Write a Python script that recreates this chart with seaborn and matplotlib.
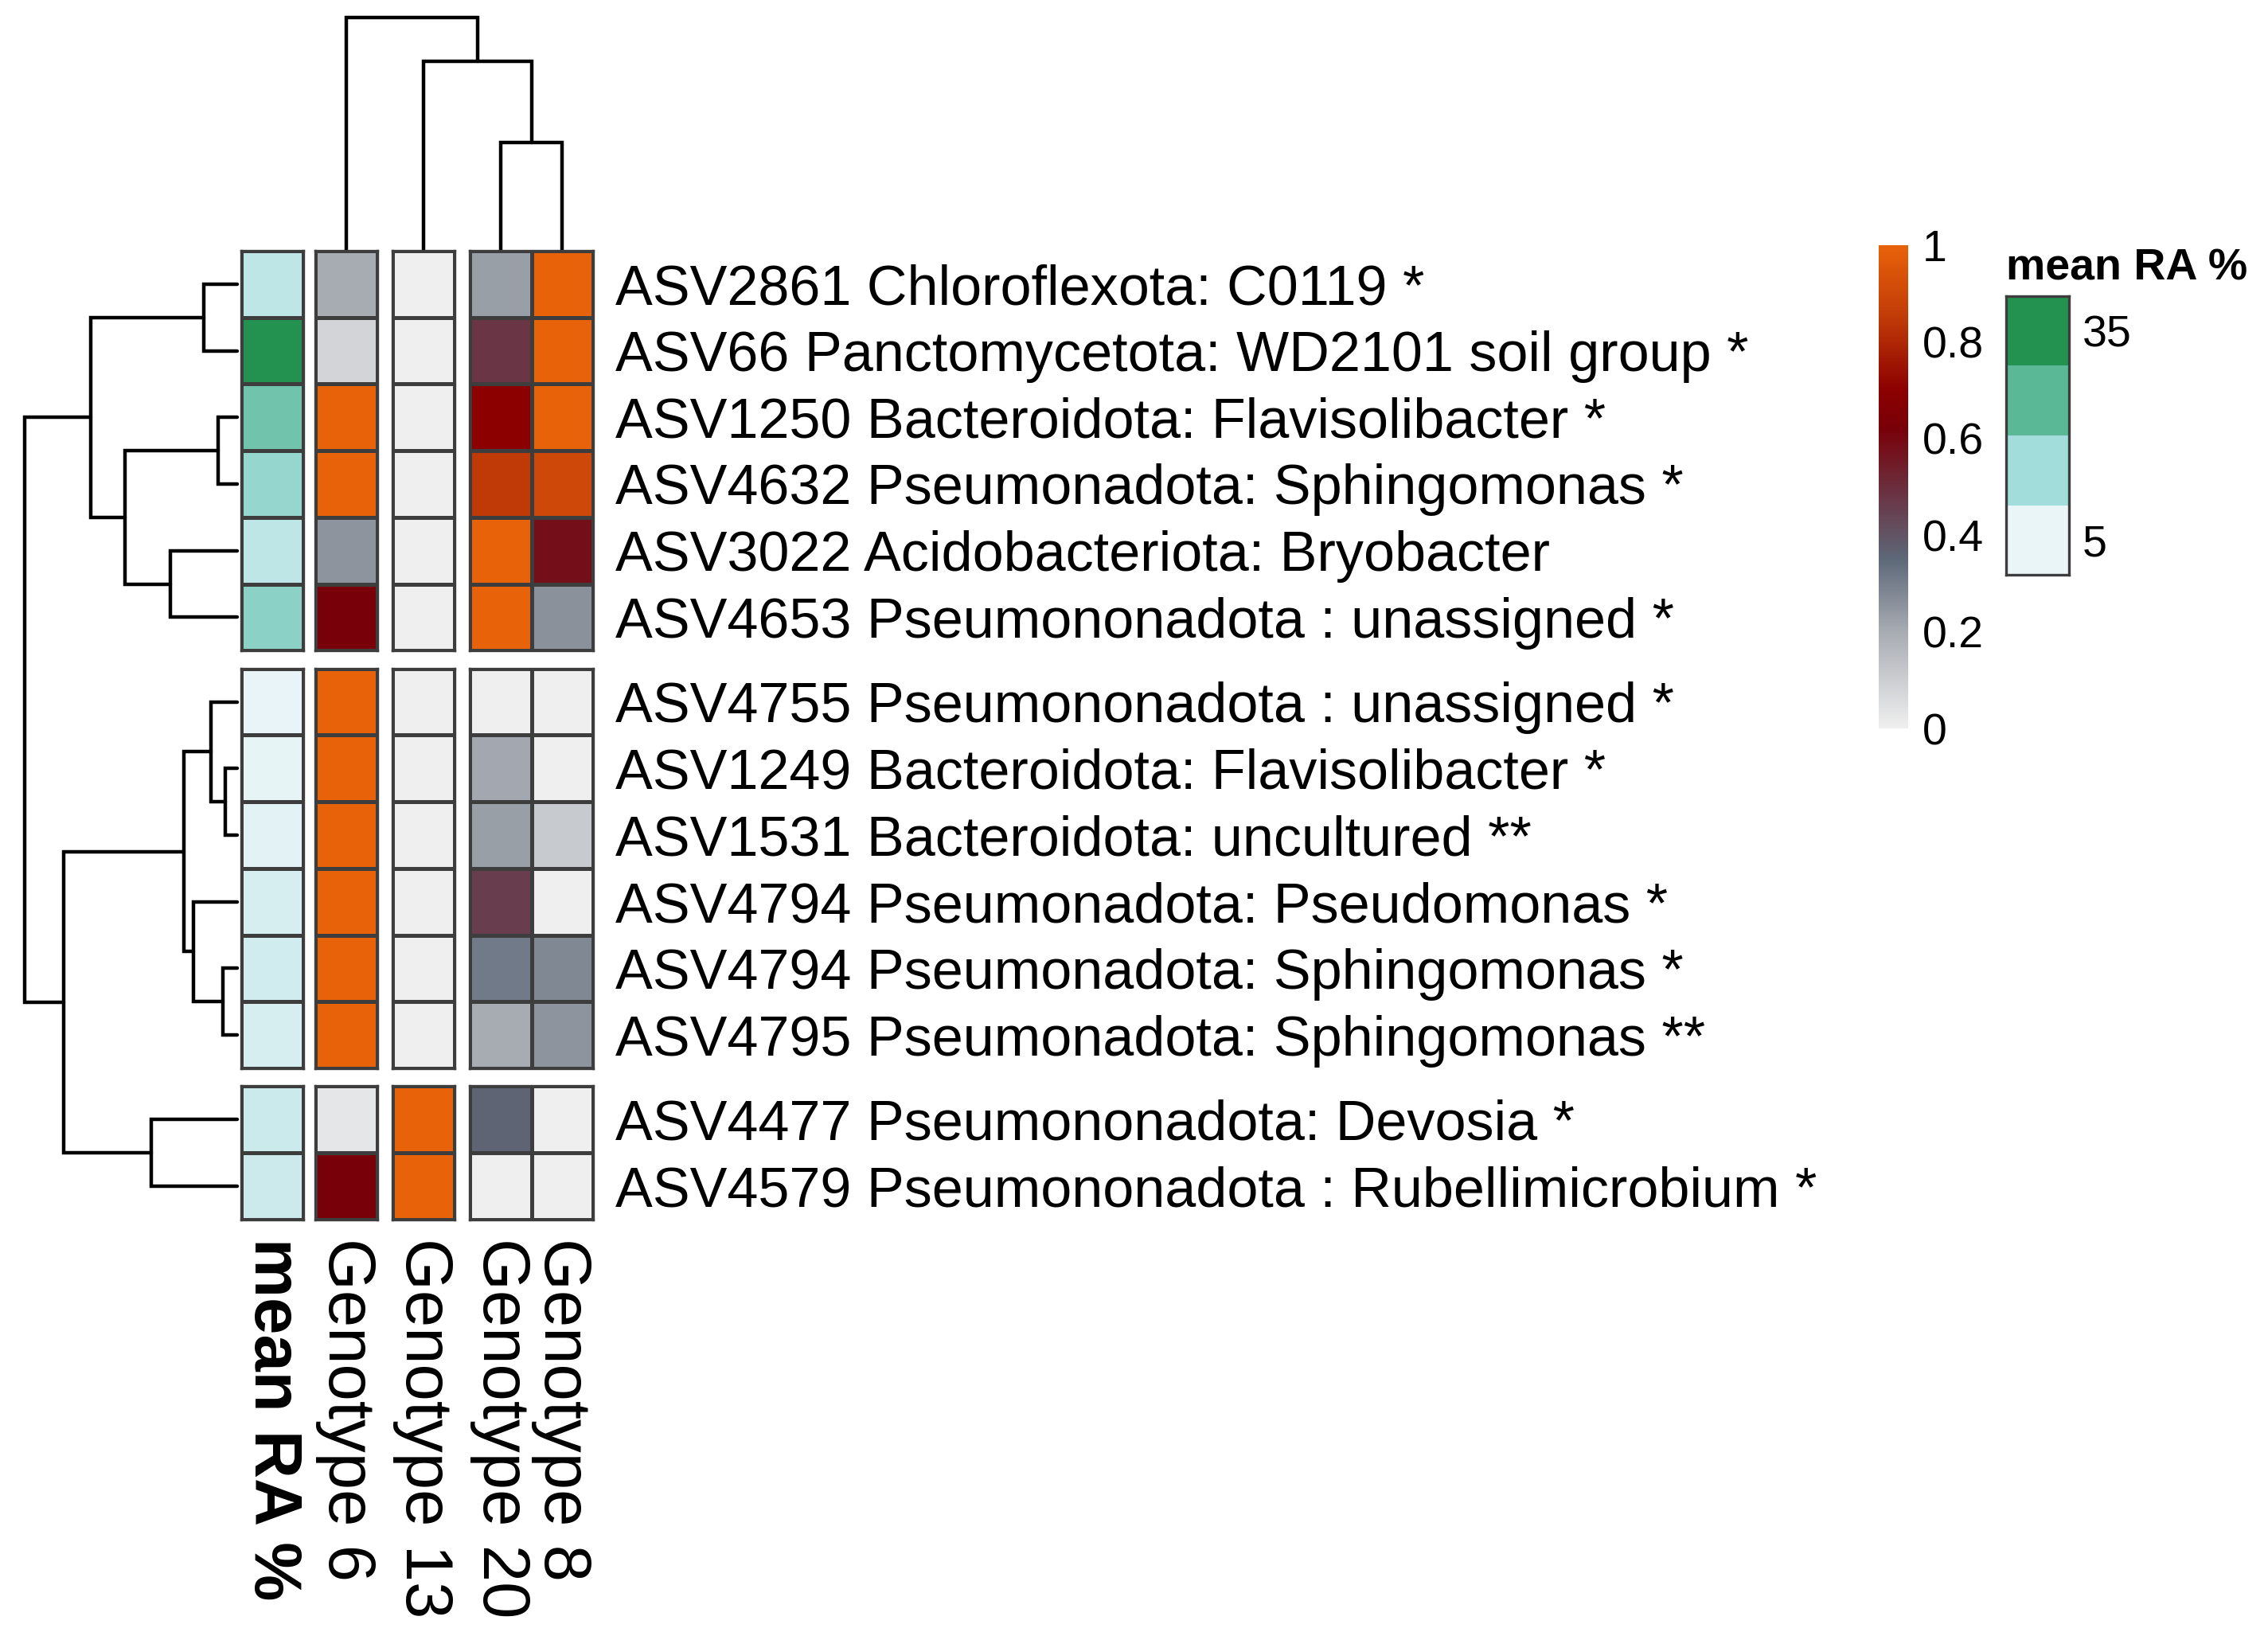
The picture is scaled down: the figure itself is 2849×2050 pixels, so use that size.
import numpy as np
import pandas as pd
import matplotlib
matplotlib.use("Agg")
import matplotlib.pyplot as plt
import seaborn as sns
from matplotlib.colors import LinearSegmentedColormap, Normalize
from matplotlib.cm import ScalarMappable

sns.set_style("white")
plt.rcParams['font.family'] = ['Liberation Sans', 'DejaVu Sans']
plt.rcParams['text.color'] = 'black'
plt.rcParams['xtick.color'] = 'black'
plt.rcParams['ytick.color'] = 'black'

# ---- data ----
asv_labels = [
    "ASV2861 Chloroflexota: C0119 *",
    "ASV66 Panctomycetota: WD2101 soil group *",
    "ASV1250 Bacteroidota: Flavisolibacter *",
    "ASV4632 Pseumonadota: Sphingomonas *",
    "ASV3022 Acidobacteriota: Bryobacter",
    "ASV4653 Pseumononadota : unassigned *",
    "ASV4755 Pseumononadota : unassigned *",
    "ASV1249 Bacteroidota: Flavisolibacter *",
    "ASV1531 Bacteroidota: uncultured **",
    "ASV4794 Pseumonadota: Pseudomonas *",
    "ASV4794 Pseumonadota: Sphingomonas *",
    "ASV4795 Pseumonadota: Sphingomonas **",
    "ASV4477 Pseumononadota: Devosia *",
    "ASV4579 Pseumononadota : Rubellimicrobium *",
]
genotypes = ["Genotype 6", "Genotype 13", "Genotype 20", "Genotype 8"]

genotype_6 = [0.20, 0.08, 1.00, 1.00, 0.25, 0.62, 1.00, 1.00, 1.00, 1.00, 1.00, 1.00, 0.03, 0.62]
genotype_13 = [0.00, 0.00, 0.00, 0.00, 0.00, 0.00, 0.00, 0.00, 0.00, 0.00, 0.00, 0.00, 1.00, 1.00]
genotype_20 = [0.23, 0.48, 0.70, 0.85, 1.00, 1.00, 0.00, 0.21, 0.23, 0.46, 0.31, 0.20, 0.36, 0.00]
genotype_8 = [1.00, 1.00, 1.00, 0.90, 0.58, 0.26, 0.00, 0.00, 0.11, 0.00, 0.28, 0.25, 0.00, 0.00]

mean_ra = [11.2, 38.0, 21.8, 16.8, 11.0, 18.1, 5.3, 5.6, 6.1, 7.9, 8.6, 7.9, 9.4, 9.3]

row_blocks = [6, 6, 2]
col_groups = [[0], [1], [2, 3]]

# hierarchical merges (left, right, height), scipy-style ids
row_merges = [
    (0, 1, 0.42), (2, 3, 0.24), (4, 5, 0.84), (15, 16, 1.41), (14, 17, 1.84),
    (7, 8, 0.15), (6, 19, 0.33), (10, 11, 0.18), (9, 21, 0.55), (20, 22, 0.67),
    (12, 13, 1.08), (23, 24, 2.18), (18, 25, 2.67),
]
col_merges = [(2, 3, 1.36), (1, 4, 2.38), (0, 5, 2.93)]

legend_levels = [35, 25, 15, 5]
legend_labels = ["35", "", "", "5"]

df = pd.DataFrame({"Genotype 6": genotype_6, "Genotype 13": genotype_13,
                   "Genotype 20": genotype_20, "Genotype 8": genotype_8}, index=asv_labels)
ann = pd.DataFrame({"mean RA %": mean_ra}, index=asv_labels)

heat_cmap = LinearSegmentedColormap.from_list("heat", [
    (0.00, "#efefef"), (0.20, "#a7abb2"), (0.35, "#5d6878"), (0.48, "#6a3545"),
    (0.62, "#780008"), (0.70, "#8b0000"), (0.85, "#c03a08"), (1.00, "#e8620a")])
ann_cmap = LinearSegmentedColormap.from_list("ann", ["#eaf5f8", "#a2dcdb", "#5bb896", "#239250"])

# ---- layout (pixels) ----
W, H = 2849, 2050
fig = plt.figure(figsize=(W / 100, H / 100), dpi=100)

def add_ax(x0, y0, x1, y1):
    return fig.add_axes([x0 / W, 1 - y1 / H, (x1 - x0) / W, (y1 - y0) / H])

top, cell_h, row_gap = 315, 83.7, 22.5
ann_x0, ann_x1 = 303, 381
hm_x0, cell_w, col_gap = 396, 77.5, 19.5
edge = "#3d3d3d"
lw = 2.4
row_fs, col_fs = 50.5, 60

def style_spines(ax):
    for s in ax.spines.values():
        s.set_visible(True)
        s.set_linewidth(lw)
        s.set_color(edge)

row_centers = []
col_centers = []
y = top
r0 = 0
for bi, nb in enumerate(row_blocks):
    y1 = y + nb * cell_h
    rows = list(range(r0, r0 + nb))
    row_centers += [y + (i + 0.5) * cell_h for i in range(nb)]
    last = bi == len(row_blocks) - 1

    # annotation column
    ax = add_ax(ann_x0, y, ann_x1, y1)
    sns.heatmap(ann.iloc[rows], ax=ax, cmap=ann_cmap, vmin=5, vmax=35, cbar=False,
                linewidths=lw, linecolor=edge, xticklabels=last, yticklabels=False)
    style_spines(ax)
    if last:
        ax.tick_params(axis="x", length=0, pad=17, labelsize=col_fs, labelrotation=270)
        for t in ax.get_xticklabels():
            t.set_fontweight("bold")

    x = hm_x0
    for gi, cols in enumerate(col_groups):
        x1 = x + len(cols) * cell_w
        if bi == 0:
            col_centers += [x + (i + 0.5) * cell_w for i in range(len(cols))]
        ax = add_ax(x, y, x1, y1)
        right = gi == len(col_groups) - 1
        sns.heatmap(df.iloc[rows, cols], ax=ax, cmap=heat_cmap, vmin=0, vmax=1, cbar=False,
                    linewidths=lw, linecolor=edge, xticklabels=last,
                    yticklabels=[asv_labels[r] for r in rows] if right else False)
        style_spines(ax)
        if right:
            ax.yaxis.tick_right()
            ax.tick_params(axis="y", length=0, pad=20, labelsize=row_fs, labelrotation=0)
        if last:
            ax.tick_params(axis="x", length=0, pad=17, labelsize=col_fs, labelrotation=270)
        x = x1 + col_gap
    y = y1 + row_gap
    r0 += nb

# ---- dendrograms ----
dax = fig.add_axes([0, 0, 1, 1], zorder=-1)
dax.set_xlim(0, W)
dax.set_ylim(H, 0)
dax.axis("off")

def draw_dendro(merges, leaves, base, scale, side):
    pos = list(leaves)
    hgt = [0.0] * len(leaves)
    for a, b, h in merges:
        ys = [base - hgt[a] * scale, base - h * scale, base - h * scale, base - hgt[b] * scale]
        xs = [pos[a], pos[a], pos[b], pos[b]]
        if side == "left":
            xs, ys = ys, xs
        dax.plot(xs, ys, color="black", lw=3.2, solid_joinstyle="miter")
        pos.append((pos[a] + pos[b]) / 2)
        hgt.append(h)

draw_dendro(row_merges, row_centers, 298, 100, "left")
draw_dendro(col_merges, col_centers, top, 100, "top")

# ---- colour bar ----
cax = add_ax(2360, 308, 2397, 915)
cb = fig.colorbar(ScalarMappable(norm=Normalize(0, 1), cmap=heat_cmap), cax=cax,
                  ticks=[0, 0.2, 0.4, 0.6, 0.8, 1])
cb.ax.set_yticklabels(["0", "0.2", "0.4", "0.6", "0.8", "1"])
cb.outline.set_visible(False)
cax.tick_params(length=0, pad=13, labelsize=40)

# ---- mean RA legend ----
lax = add_ax(2520, 372, 2599, 722)
sns.heatmap(pd.DataFrame({"v": legend_levels}), ax=lax, cmap=ann_cmap, vmin=5, vmax=35,
            cbar=False, xticklabels=False, yticklabels=legend_labels)
style_spines(lax)
lax.yaxis.tick_right()
lax.tick_params(axis="y", length=0, pad=12, labelsize=40, labelrotation=0)
fig.text(2520 / W, 1 - 352 / H, "mean RA %", fontsize=40, fontweight="bold",
         ha="left", va="baseline")

fig.savefig("out.png", dpi=100, facecolor="white")
